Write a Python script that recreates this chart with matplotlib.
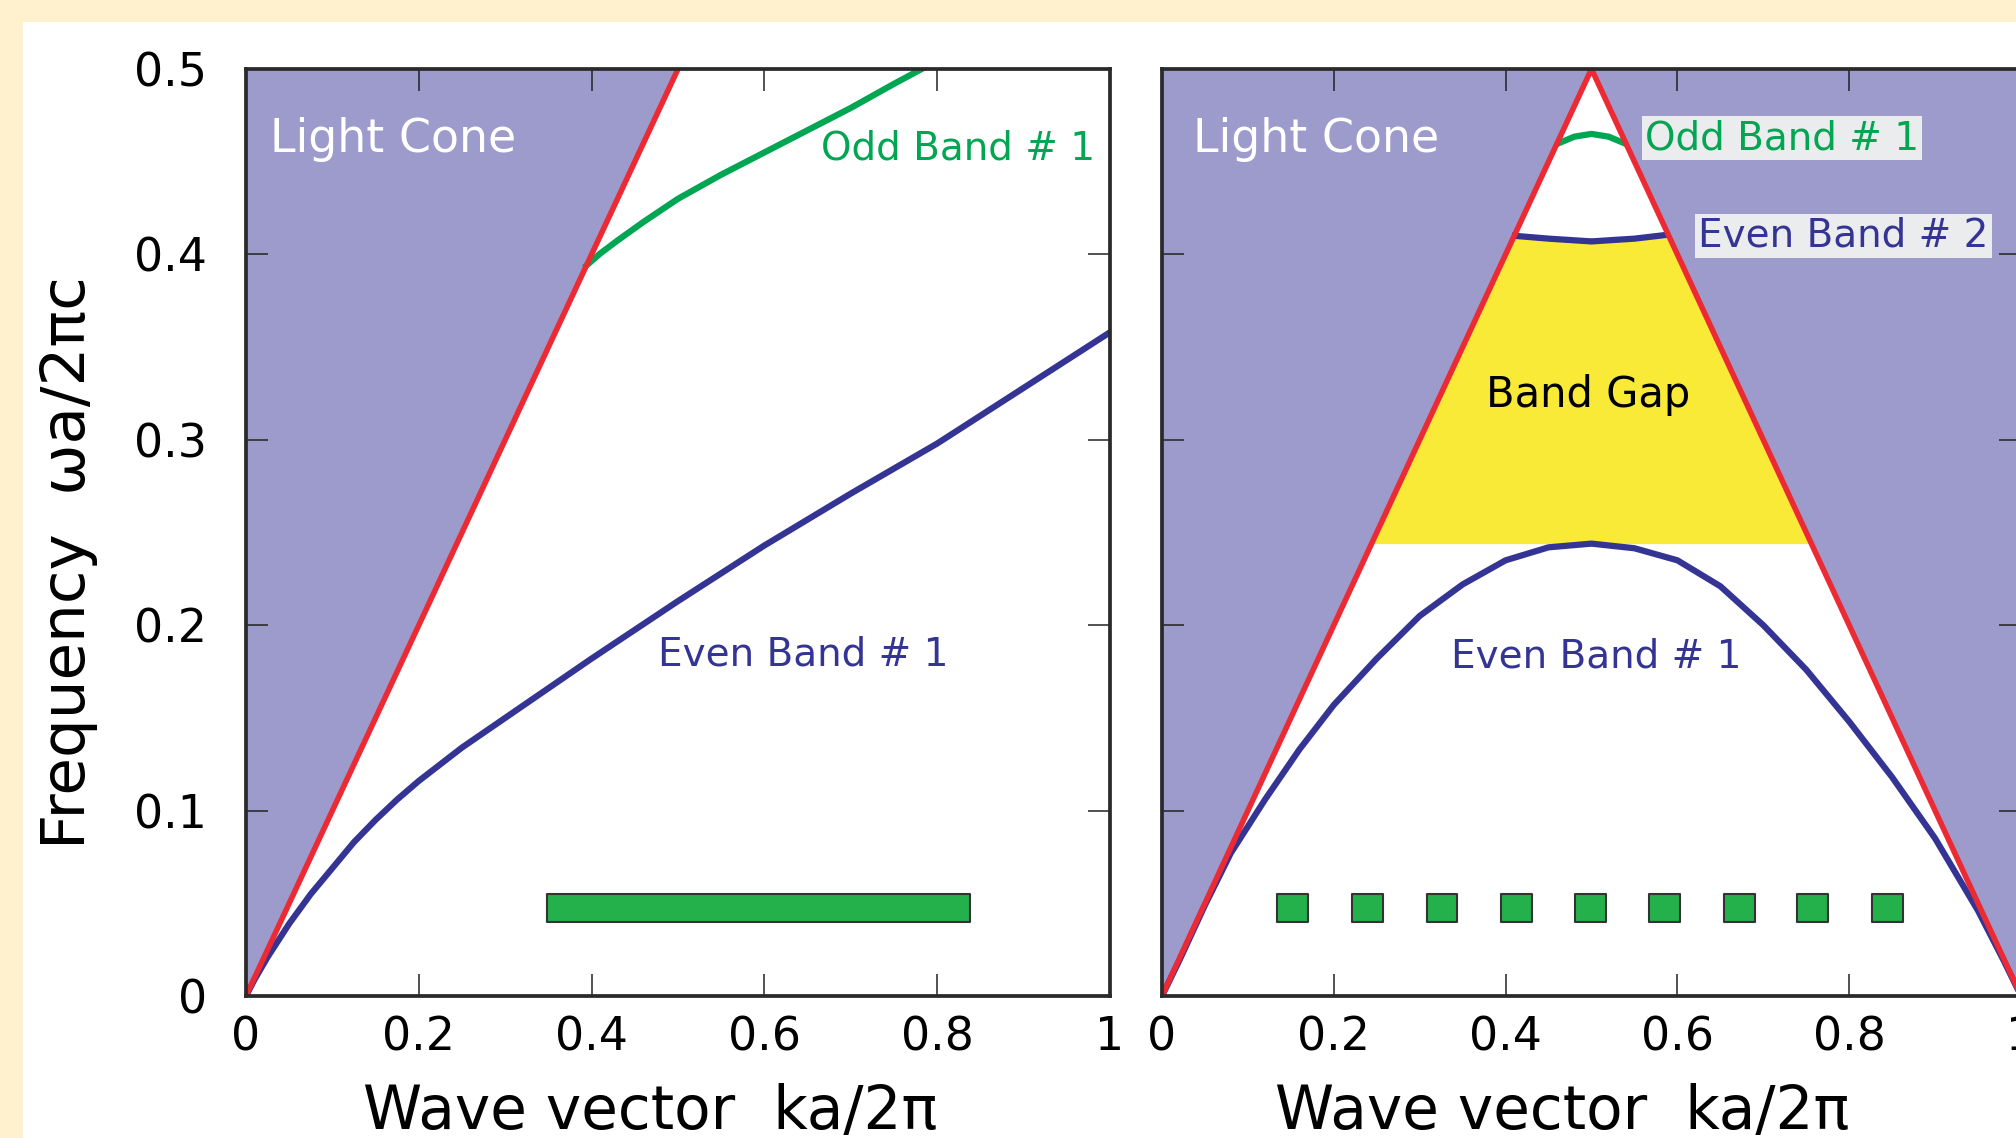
import matplotlib
matplotlib.use('Agg')
import matplotlib.pyplot as plt
from matplotlib.patches import Rectangle

# ---- data ----
# light line (omega = k), folded at the zone edge on the right
light_k_left = [0.0, 0.5]
light_w_left = [0.0, 0.5]
light_k_right = [0.0, 0.5, 1.0]
light_w_right = [0.0, 0.5, 0.0]

# left panel: uniform slab
even1_k_left = [0.0, 0.01, 0.025, 0.05, 0.075, 0.1, 0.125, 0.15, 0.175, 0.2, 0.25, 0.3, 0.35,
                0.4, 0.5, 0.6, 0.7, 0.8, 0.9, 1.0]
even1_w_left = [0.0, 0.009, 0.021, 0.039, 0.055, 0.069, 0.083, 0.095, 0.106, 0.116, 0.134, 0.150, 0.166,
                0.182, 0.213, 0.243, 0.271, 0.298, 0.328, 0.358]
odd1_k_left = [0.394, 0.41, 0.43, 0.46, 0.5, 0.55, 0.6, 0.65, 0.7, 0.75, 0.782]
odd1_w_left = [0.394, 0.4005, 0.4075, 0.4175, 0.430, 0.443, 0.455, 0.467, 0.479, 0.492, 0.500]

# right panel: periodic slab
even1_k_right = [0.0, 0.02, 0.05, 0.08, 0.12, 0.16, 0.2, 0.25, 0.3, 0.35, 0.4, 0.45, 0.5,
                 0.55, 0.6, 0.65, 0.7, 0.75, 0.8, 0.85, 0.9, 0.95, 0.98, 1.0]
even1_w_right = [0.0, 0.019, 0.049, 0.077, 0.106, 0.133, 0.157, 0.182, 0.205, 0.222, 0.235, 0.242, 0.244,
                 0.2415, 0.235, 0.221, 0.200, 0.176, 0.148, 0.118, 0.085, 0.046, 0.019, 0.0]
even2_k_right = [0.411, 0.45, 0.5, 0.55, 0.587]
even2_w_right = [0.410, 0.4085, 0.407, 0.4085, 0.4105]
odd1_k_right = [0.462, 0.48, 0.5, 0.52, 0.538]
odd1_w_right = [0.460, 0.4635, 0.465, 0.4635, 0.460]
gap_low = 0.244
gap_high = 0.409

# structure sketches at the bottom
bar_k = [0.348, 0.838]
bar_w = [0.040, 0.055]
hole_k = [0.152, 0.239, 0.326, 0.413, 0.499, 0.585, 0.672, 0.757, 0.845]
hole_size = 0.036

x_ticks = [0, 0.2, 0.4, 0.6, 0.8, 1.0]
x_tick_labels = ['0', '0.2', '0.4', '0.6', '0.8', '1']
y_ticks = [0, 0.1, 0.2, 0.3, 0.4, 0.5]
y_tick_labels = ['0', '0.1', '0.2', '0.3', '0.4', '0.5']

# ---- colours ----
cream = '#FFF1CD'
purple = '#9D9BCB'
red = '#EC2A34'
blue = '#343494'
green = '#00A651'
green_box = '#24B04B'
yellow = '#F9EA38'
label_bg = '#EBECEE'

W, H = 2016, 1138
fig = plt.figure(figsize=(W / 100, H / 100), dpi=100, facecolor=cream)
fig.patches.append(Rectangle((23 / W, 0), 1, 1 - 22 / H, transform=fig.transFigure,
                             facecolor='white', edgecolor='none', zorder=-1))

ax1 = fig.add_axes([246 / W, 1 - 996 / H, 864 / W, 927 / H])
ax2 = fig.add_axes([1162 / W, 1 - 996 / H, 859 / W, 927 / H])

for ax in (ax1, ax2):
    ax.set_xlim(0, 1)
    ax.set_ylim(0, 0.5)
    ax.set_xticks(x_ticks)
    ax.set_xticklabels(x_tick_labels)
    ax.set_yticks(y_ticks)
    ax.set_yticklabels(y_tick_labels)
    ax.tick_params(direction='in', length=16, width=1.1, color='#222222',
                   top=True, right=True, labelsize=33)
    ax.tick_params(axis='x', pad=14)
    ax.tick_params(axis='y', pad=28)
    for s in ax.spines.values():
        s.set_linewidth(2.7)
        s.set_color('#2a2a2a')
        s.set_zorder(10)
ax2.tick_params(labelleft=False)

# left panel
ax1.fill_between(light_k_left, light_w_left, 0.5, color=purple, lw=0, zorder=1)
ax1.plot(even1_k_left, even1_w_left, color=blue, lw=4.5, zorder=3, solid_joinstyle='round')
ax1.plot(odd1_k_left, odd1_w_left, color=green, lw=4.5, zorder=3, solid_joinstyle='round')
ax1.plot(light_k_left, light_w_left, color=red, lw=4, zorder=4)
ax1.broken_barh([(bar_k[0], bar_k[1] - bar_k[0])], (bar_w[0], bar_w[1] - bar_w[0]),
                facecolor=green_box, edgecolor='#333333', lw=1.5, zorder=3)

ax1.text(0.028, 0.462, 'Light Cone', color='white', fontsize=33, va='center')
ax1.text(0.665, 0.457, 'Odd Band # 1', color=green, fontsize=28, va='center')
ax1.text(0.477, 0.184, 'Even Band # 1', color=blue, fontsize=28, va='center')

# right panel
ax2.fill_between(light_k_right, light_w_right, 0.5, color=purple, lw=0, zorder=1)
ax2.fill_betweenx([gap_low, gap_high], [gap_low, gap_high], [1 - gap_low, 1 - gap_high],
                  color=yellow, lw=0, zorder=1)
ax2.plot(even1_k_right, even1_w_right, color=blue, lw=4.5, zorder=3, solid_joinstyle='round')
ax2.plot(even2_k_right, even2_w_right, color=blue, lw=4.5, zorder=3, solid_joinstyle='round')
ax2.plot(odd1_k_right, odd1_w_right, color=green, lw=4.5, zorder=3, solid_joinstyle='round')
ax2.plot(light_k_right, light_w_right, color=red, lw=4, zorder=4)
ax2.broken_barh([(c - hole_size / 2, hole_size) for c in hole_k], (bar_w[0], bar_w[1] - bar_w[0]),
                facecolor=green_box, edgecolor='#333333', lw=1.5, zorder=3)

ax2.text(0.036, 0.462, 'Light Cone', color='white', fontsize=33, va='center')
ax2.text(0.496, 0.324, 'Band Gap', color='black', fontsize=30, ha='center', va='center')
ax2.text(0.506, 0.183, 'Even Band # 1', color=blue, fontsize=28, ha='center', va='center')
ax2.text(0.562, 0.4627, 'Odd Band # 1', color=green, fontsize=28, va='center', zorder=6,
         bbox=dict(boxstyle='square,pad=0.08', facecolor=label_bg, edgecolor='none'))
ax2.text(0.624, 0.410, 'Even Band # 2', color=blue, fontsize=28, va='center', zorder=6,
         bbox=dict(boxstyle='square,pad=0.08', facecolor=label_bg, edgecolor='none'))

# axis titles
fig.text(69 / W, 1 - 563 / H, 'Frequency  ωa/2πc', rotation=90, ha='center', va='center', fontsize=44)
fig.text(650 / W, 1 - 1129 / H, 'Wave vector  ka/2π', ha='center', va='baseline', fontsize=43)
fig.text(1562 / W, 1 - 1129 / H, 'Wave vector  ka/2π', ha='center', va='baseline', fontsize=43)

fig.savefig('out.png', dpi=100, facecolor=cream)
